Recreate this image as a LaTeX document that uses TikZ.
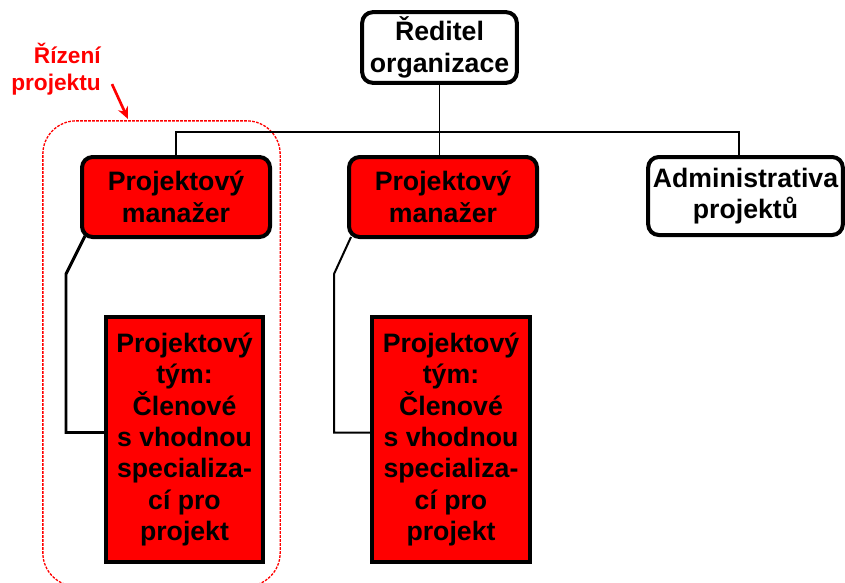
\documentclass[tikz,border=0pt]{standalone}
\usepackage{fontspec}
\setmainfont{Liberation Sans}
\usetikzlibrary{arrows.meta,positioning}

\begin{document}
\begin{tikzpicture}[x=0.75pt,y=-0.75pt,
    every node/.style={font=\bfseries\fontsize{20}{23.6}\selectfont, align=center, inner sep=0pt},
    headbox/.style={draw, line width=3pt, rounded corners=8pt, fill=white},
    mgrbox/.style={headbox, fill=red, minimum width=141pt, minimum height=60pt},
    teambox/.style={draw, line width=3pt, fill=red, minimum width=118pt, minimum height=184pt},
    link/.style={line width=1.2pt}]
    \useasboundingbox (0,0) rectangle (845,582);
    \node[draw=red, dash pattern=on 2pt off 1pt, line width=1pt, rounded corners=25pt,
        minimum width=178pt, minimum height=349pt] (ctrl) at (161.5,353.5) {};
    \node[headbox, minimum width=116pt, minimum height=53pt] (director) at (439.5,47.5) {Ředitel\\organizace};
    \node[mgrbox] (mgr1) at (176,197) {Projektový\\manažer};
    \node[mgrbox] (mgr2) at (443,197) {Projektový\\manažer};
    \node[headbox, minimum width=146pt, minimum height=58.5pt] (admin) at (745.5,196) {Administrativa\\projektů};
    \node[teambox] (team1) at (184.5,439.5) {Projektový\\tým:\\Členové\\s vhodnou\\specializa-\\cí pro\\projekt};
    \node[teambox] (team2) at (451,439.5) {Projektový\\tým:\\Členové\\s vhodnou\\specializa-\\cí pro\\projekt};
    \node[text=red, align=right, anchor=east, font=\bfseries\fontsize{17}{20}\selectfont] (label) at (101,69) {Řízení\\projektu};
    \coordinate (tip) at (128,119);

    \draw[link] (director.south) -- (director.south |- mgr2.north);
    \draw[link] (mgr1.north) -- ++(0,-23) -| ([xshift=-5pt]admin.north);
    \draw[line width=2.2pt] ([shift={(5,-3)}]mgr1.south west) -- ++(-19,38) |- ([shift={(0,-7)}]team1.west);
    \draw[line width=1.5pt] ([shift={(4,-2)}]mgr2.south west) -- ++(-17,37) |- ([shift={(0,-7)}]team2.west);
    \draw[red, line width=2pt, -{Stealth[length=9pt,width=8pt]}] ([shift={(11,-11)}]label.south east) -- (tip);
\end{tikzpicture}
\end{document}
